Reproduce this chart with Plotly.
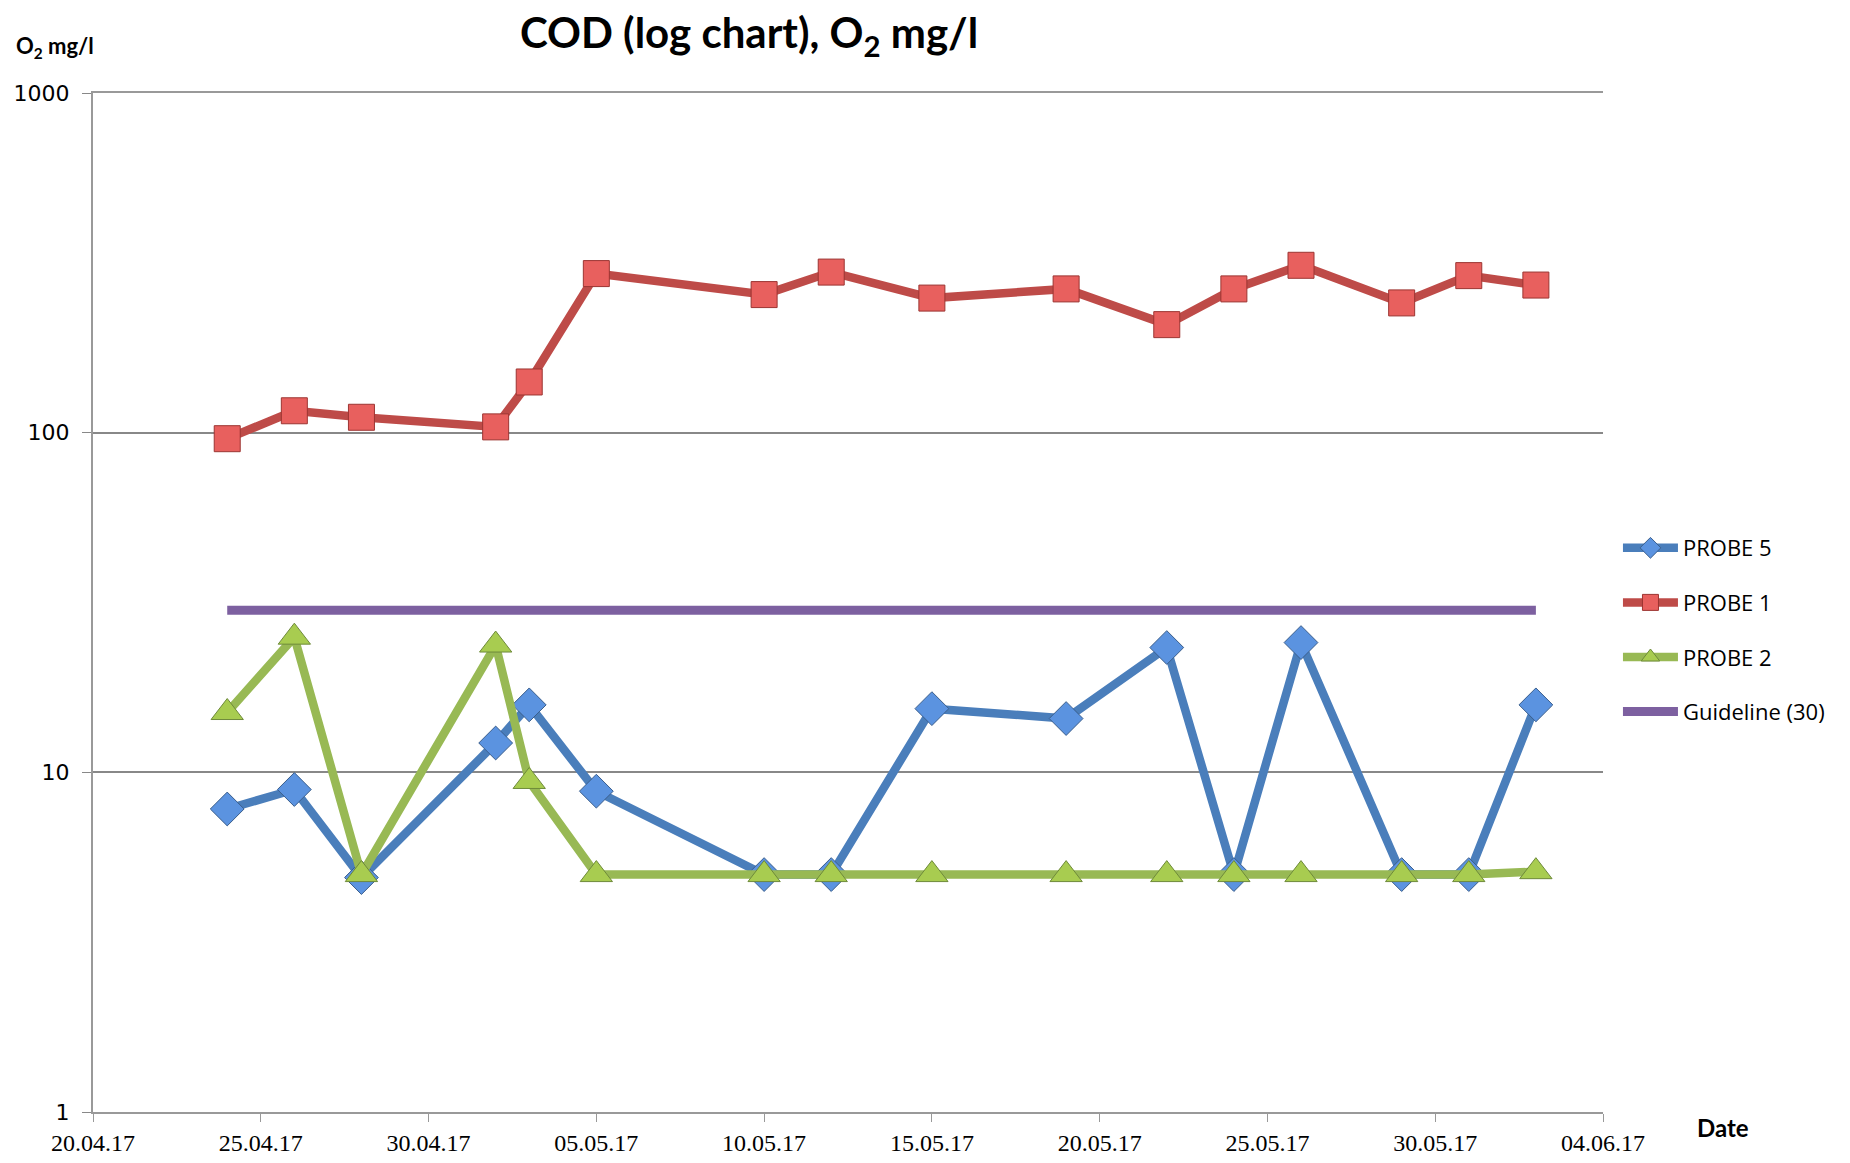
import plotly.graph_objects as go

dates = ["2017-04-24", "2017-04-26", "2017-04-28", "2017-05-02", "2017-05-03",
         "2017-05-05", "2017-05-10", "2017-05-12", "2017-05-15", "2017-05-19",
         "2017-05-22", "2017-05-24", "2017-05-26", "2017-05-29", "2017-05-31",
         "2017-06-02"]
probe5 = [7.8, 8.9, 4.9, 12.2, 15.8, 8.8, 5.0, 5.0, 15.4, 14.4, 23.3, 5.0, 24.1, 5.0, 5.0, 15.8]
probe1 = [96, 116, 111, 104, 141, 294, 255, 297, 249, 265, 208, 265, 311, 241, 290, 272]
probe2 = [15.0, 25.0, 5.0, 23.7, 9.4, 5.0, 5.0, 5.0, 5.0, 5.0, 5.0, 5.0, 5.0, 5.0, 5.0, 5.1]
guideline = [30] * 16

x_tick_vals = ["2017-04-20", "2017-04-25", "2017-04-30", "2017-05-05", "2017-05-10",
               "2017-05-15", "2017-05-20", "2017-05-25", "2017-05-30", "2017-06-04"]
x_tick_text = ["20.04.17", "25.04.17", "30.04.17", "05.05.17", "10.05.17",
               "15.05.17", "20.05.17", "25.05.17", "30.05.17", "04.06.17"]
y_tick_vals = [1, 10, 100, 1000]
y_tick_text = ["1", "10", "100", "1000"]

# page geometry (the html body has an 8px margin)
OFF = 8
W, H = 1850 - 2 * OFF, 1163 - 2 * OFF
PL, PR, PT, PB = 93, 1607, 93, 1112  # plot area in page px
pw, ph = PR - PL, PB - PT


def px2paper(px, py):
    return (px - PL) / pw, (PB - py) / ph


fig = go.Figure()

fig.add_trace(go.Scatter(
    x=dates, y=probe5, name="PROBE 5", mode="lines+markers", legendgroup="a",
    line=dict(color="#4A7EBB", width=8.5),
    marker=dict(symbol="diamond", size=26, color="#5B93E0",
                line=dict(color="#3A5E8C", width=1))))
fig.add_trace(go.Scatter(
    x=dates, y=probe1, name="PROBE 1", mode="lines+markers", legendgroup="b",
    line=dict(color="#BE4B48", width=8.5),
    marker=dict(symbol="square", size=26, color="#E8605E",
                line=dict(color="#9C3532", width=1))))
fig.add_trace(go.Scatter(
    x=dates, y=probe2, name="PROBE 2", mode="lines+markers", legendgroup="c",
    line=dict(color="#98B954", width=8.5),
    marker=dict(symbol="triangle-up", size=28, color="#A8CC50",
                line=dict(color="#6E8A3A", width=1))))
fig.add_trace(go.Scatter(
    x=dates, y=guideline, name="Guideline (30)", mode="lines", legendgroup="d",
    line=dict(color="#7D60A0", width=9)))

lx, ly = px2paper(1622, 527)
dx, dy = px2paper(1727, 1127)
ox, oy = px2paper(14, 47)

fig.update_layout(
    width=W, height=H,
    margin=dict(l=PL - OFF, r=W - (PR - OFF), t=PT - OFF, b=H - (PB - OFF)),
    paper_bgcolor="white", plot_bgcolor="white",
    font=dict(family="DejaVu Sans", color="black"),
    title=dict(text="<b>COD (log chart), O<sub>2</sub> mg/l</b>",
               x=(749 - OFF) / W, xanchor="center", y=1 - (33 - OFF) / H, yanchor="middle",
               font=dict(family="Lato", size=42, color="black")),
    showlegend=True,
    legend=dict(x=lx, xanchor="left", y=ly, yanchor="top",
                font=dict(family="Open Sans", size=22, color="black"),
                tracegroupgap=23, itemwidth=55, bgcolor="rgba(0,0,0,0)"),
    xaxis=dict(type="date", range=["2017-04-20", "2017-06-04"],
               tickvals=x_tick_vals, ticktext=x_tick_text,
               ticks="outside", ticklen=8, tickcolor="#999999", tickwidth=1,
               showgrid=False, showline=True, linecolor="#999999", linewidth=2,
               mirror=True, automargin=False,
               tickfont=dict(family="Liberation Sans Narrow", size=24, color="black"),
               zeroline=False),
    yaxis=dict(type="log", range=[0, 3],
               tickvals=y_tick_vals, ticktext=y_tick_text,
               ticks="outside", ticklen=9, tickcolor="#888888", ticklabelstandoff=8,
               showgrid=True, gridcolor="#888888", gridwidth=1.5,
               showline=True, linecolor="#999999", linewidth=2, automargin=False,
               tickfont=dict(family="DejaVu Sans", size=22, color="black"),
               zeroline=False),
    annotations=[
        dict(text="<b>O<sub>2</sub> mg/l</b>", x=ox, y=oy,
             xref="paper", yref="paper", xanchor="left", yanchor="middle",
             showarrow=False, font=dict(family="Lato", size=22, color="black")),
        dict(text="<b>Date</b>", x=dx, y=dy,
             xref="paper", yref="paper", xanchor="center", yanchor="middle",
             showarrow=False, font=dict(family="Lato", size=24, color="black")),
    ],
)

fig.write_html("out.html")
